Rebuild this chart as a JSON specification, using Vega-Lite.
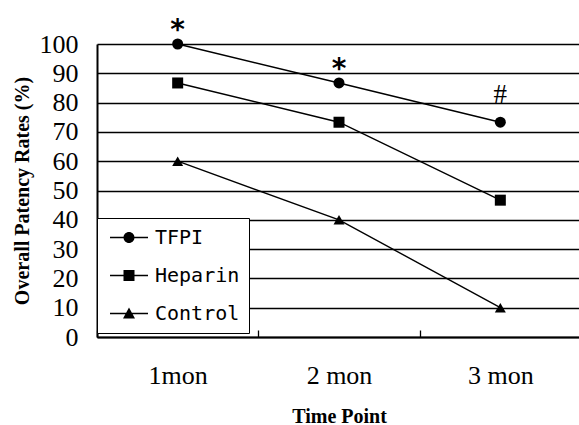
{
  "$schema": "https://vega.github.io/schema/vega-lite/v6.json",
  "width": 484,
  "height": 293,
  "autosize": {"type": "none"},
  "padding": {"left": 97, "top": 44, "right": 0, "bottom": 88},
  "background": "white",
  "config": {"view": {"stroke": null}},
  "datasets": {
    "rates": [
      {"series": "TFPI", "time": "1mon", "value": 100},
      {"series": "TFPI", "time": "2 mon", "value": 86.7},
      {"series": "TFPI", "time": "3 mon", "value": 73.3},
      {"series": "Heparin", "time": "1mon", "value": 86.7},
      {"series": "Heparin", "time": "2 mon", "value": 73.3},
      {"series": "Heparin", "time": "3 mon", "value": 46.7},
      {"series": "Control", "time": "1mon", "value": 60},
      {"series": "Control", "time": "2 mon", "value": 40},
      {"series": "Control", "time": "3 mon", "value": 10}
    ],
    "stars": [
      {"time": "1mon", "value": 100, "label": "*"},
      {"time": "2 mon", "value": 86.7, "label": "*"}
    ],
    "hash": [
      {"time": "3 mon", "value": 73.3, "label": "#"}
    ]
  },
  "data": {"name": "rates"},
  "encoding": {
    "x": {
      "field": "time",
      "type": "ordinal",
      "sort": ["1mon", "2 mon", "3 mon"],
      "bandPosition": 0.5,
      "scale": {"type": "band", "paddingInner": 0, "paddingOuter": 0},
      "axis": {
        "title": "Time Point",
        "labelAngle": 0,
        "tickBand": "extent",
        "tickSize": -7,
        "tickColor": "black",
        "tickWidth": 1.3,
        "domainColor": "black",
        "domainWidth": 2,
        "grid": false,
        "labelFont": "Liberation Serif",
        "labelFontSize": 26,
        "labelColor": "black",
        "labelPadding": 32,
        "titleFont": "Liberation Serif",
        "titleFontSize": 20,
        "titleFontWeight": "bold",
        "titleColor": "black",
        "titlePadding": 18
      }
    },
    "y": {
      "field": "value",
      "type": "quantitative",
      "scale": {"domain": [0, 100], "nice": false},
      "axis": {
        "title": "Overall Patency Rates (%)",
        "values": [0, 10, 20, 30, 40, 50, 60, 70, 80, 90, 100],
        "grid": true,
        "gridColor": "black",
        "gridWidth": 1.3,
        "gridOpacity": 1,
        "ticks": false,
        "domainColor": "black",
        "domainWidth": 2,
        "labelFont": "Liberation Serif",
        "labelFontSize": 26,
        "labelColor": "black",
        "labelPadding": 19,
        "titleFont": "Liberation Serif",
        "titleFontSize": 20,
        "titleFontWeight": "bold",
        "titleColor": "black",
        "titlePadding": 7
      }
    }
  },
  "layer": [
    {
      "mark": {"type": "line", "color": "black", "strokeWidth": 1.4},
      "encoding": {"detail": {"field": "series"}}
    },
    {
      "mark": {"type": "point", "filled": true, "color": "black", "opacity": 1, "size": 121},
      "encoding": {
        "shape": {
          "field": "series",
          "scale": {"domain": ["TFPI", "Heparin", "Control"], "range": ["circle", "square", "triangle-up"]},
          "legend": null
        }
      }
    },
    {
      "mark": {"type": "point", "filled": true, "color": "black", "opacity": 0, "size": 400},
      "encoding": {
        "shape": {
          "field": "series",
          "title": null,
          "scale": {
            "domain": ["TFPI", "Heparin", "Control"],
            "range": [
              "M-0.65,-0.07H3.15V0.07H-0.65Z M1.25,-0.55A0.55,0.55 0 1,1 1.25,0.55A0.55,0.55 0 1,1 1.25,-0.55Z",
              "M-0.65,-0.07H3.15V0.07H-0.65Z M0.7,-0.55H1.8V0.55H0.7Z",
              "M-0.65,-0.07H3.15V0.07H-0.65Z M1.25,-0.6L1.85,0.5H0.65Z"
            ]
          },
          "legend": {
            "orient": "none",
            "legendX": 0,
            "legendY": 174,
            "direction": "vertical",
            "padding": 9.5,
            "rowPadding": 18,
            "symbolSize": 400,
            "symbolOpacity": 1,
            "symbolFillColor": "black",
            "symbolStrokeWidth": 0,
            "labelOffset": 28.5,
            "labelFont": "DejaVu Sans Mono",
            "labelFontSize": 20,
            "labelColor": "black",
            "strokeColor": "black",
            "fillColor": "white",
            "cornerRadius": 0,
            "title": null
          }
        }
      }
    },
    {
      "data": {"name": "stars"},
      "mark": {"type": "text", "font": "DejaVu Sans", "fontSize": 28, "fontWeight": "bold", "color": "black", "baseline": "alphabetic", "dy": -5},
      "encoding": {"text": {"field": "label"}}
    },
    {
      "data": {"name": "hash"},
      "mark": {"type": "text", "font": "Liberation Serif", "fontSize": 27, "color": "black", "baseline": "alphabetic", "dy": -19},
      "encoding": {"text": {"field": "label"}}
    }
  ],
  "resolve": {"scale": {"shape": "independent"}}
}
